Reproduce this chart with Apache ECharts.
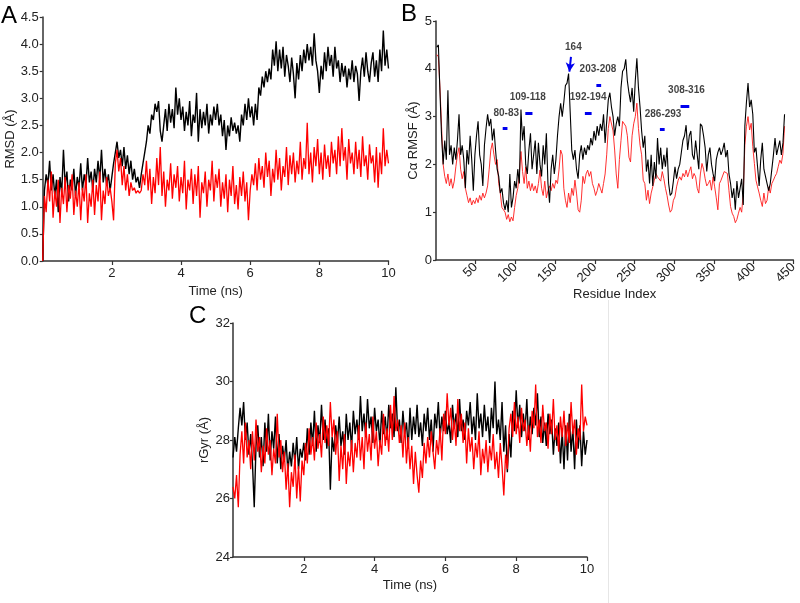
<!DOCTYPE html>
<html><head><meta charset="utf-8">
<script src="https://cdn.jsdelivr.net/npm/echarts@6/dist/echarts.min.js"></script>
<style>html,body{margin:0;padding:0;background:#fff}#c{width:800px;height:603px}</style>
</head><body><div id="c"></div>
<script>
// ---------- Panel A: RMSD (Å) vs time (ns), sampled every 0.05 ns ----------
const rmsdBlack = [
0.0,1.3,1.6,1.4,1.85,1.3,1.6,1.2,1.5,0.9,
1.55,1.25,2.05,1.4,1.65,1.1,1.5,1.3,1.7,1.2,
1.55,1.35,1.8,1.3,1.6,1.4,1.9,1.45,1.65,1.3,
1.7,1.45,1.85,1.5,2.05,1.45,1.7,1.4,1.6,1.3,
1.55,1.8,2.0,2.2,1.9,2.05,1.75,2.1,1.7,1.95,
1.6,1.85,1.5,1.7,1.45,1.55,1.35,1.6,1.8,2.0,
2.2,2.5,2.35,2.7,2.6,2.9,2.75,2.95,2.4,2.2,
2.5,2.8,2.4,2.9,2.55,2.8,2.45,3.2,2.7,3.0,
2.6,2.85,2.4,2.75,2.5,2.95,2.3,2.7,2.55,3.1,
2.2,2.8,2.45,2.75,2.5,2.9,2.35,2.7,2.5,2.85,
2.6,2.9,2.5,2.7,2.3,2.6,2.05,2.5,2.3,2.65,
2.4,2.55,2.35,2.5,2.2,2.7,2.5,2.9,2.6,3.0,
2.65,2.85,2.5,2.9,2.6,3.2,3.05,3.4,3.2,3.5,
3.3,3.55,3.35,3.9,3.6,4.05,3.5,3.9,3.55,3.95,
3.4,3.8,3.6,3.3,3.75,3.45,3.0,3.65,3.35,3.8,
3.5,3.9,3.65,4.0,3.7,3.95,3.6,4.2,3.7,3.5,
3.1,3.6,3.35,3.85,3.5,3.95,3.6,3.8,3.4,3.95,
3.55,3.7,3.3,3.65,3.4,3.6,3.2,3.55,3.35,3.7,
3.3,3.6,3.45,2.95,3.5,3.75,3.4,3.85,3.5,3.3,
3.65,3.85,3.4,3.7,3.3,3.9,3.5,4.25,3.6,3.9,
3.55];
const rmsdRed = [
0.0,1.2,0.9,1.5,1.1,1.65,0.8,1.3,1.0,1.5,
0.7,1.35,1.05,1.55,0.9,1.4,1.15,1.6,0.85,1.3,
1.0,1.45,0.75,1.35,1.1,1.6,0.7,1.25,1.0,1.5,
0.85,1.4,1.1,1.65,0.75,1.3,1.05,1.55,1.2,1.35,
1.1,0.75,1.8,2.05,1.65,1.9,1.4,1.75,1.3,1.6,
1.2,1.45,1.3,1.35,1.25,1.3,1.25,1.3,1.6,1.4,
1.85,1.3,1.7,1.05,1.55,1.25,1.9,1.4,2.1,1.2,
1.65,1.0,1.5,1.3,1.8,1.15,1.6,1.35,1.75,1.1,
1.55,1.25,1.85,0.95,1.5,1.3,1.7,1.05,1.6,1.2,
1.75,0.8,1.45,1.25,1.65,1.0,1.5,1.3,1.85,1.1,
1.6,1.35,1.7,1.0,1.45,1.15,1.6,0.9,1.5,1.2,
1.75,1.05,1.4,0.95,1.55,1.2,1.65,1.1,1.45,0.75,
1.3,1.6,1.4,1.8,1.3,1.9,1.5,1.75,1.35,2.0,
1.55,1.85,1.2,1.7,1.45,2.05,1.5,1.9,1.3,1.75,
1.55,2.1,1.4,1.95,1.6,2.0,1.45,1.85,1.6,2.2,
1.5,1.9,1.7,2.55,1.6,2.0,1.45,2.1,1.75,2.25,
1.6,2.0,1.5,2.15,1.7,1.95,1.55,2.2,1.8,2.05,
1.6,2.3,1.75,2.45,1.85,2.1,1.5,2.25,1.8,2.0,
1.6,2.2,1.7,2.05,1.55,2.3,1.75,1.95,1.5,2.15,
1.8,1.95,1.45,2.1,1.35,2.0,1.6,2.45,1.75,2.05,
1.8];

// ---------- Panel B: Cα RMSF (Å) per residue (odd residues 1..439) ----------
const rmsfBlack = [
4.45,4.5,3.5,2.6,2.0,2.5,2.1,3.55,2.2,2.4,
2.0,2.35,2.1,2.5,3.05,2.2,2.4,2.1,1.5,2.3,
2.0,2.6,2.1,1.45,2.2,2.6,2.9,2.2,2.0,1.55,
2.4,2.75,3.05,2.8,2.95,2.5,2.75,2.3,1.9,1.75,
1.4,1.5,1.2,1.05,1.25,1.0,1.8,1.1,1.3,1.65,
1.5,1.9,1.6,3.15,2.5,2.8,2.0,1.8,2.3,2.65,
1.9,2.2,2.5,1.8,2.45,2.0,1.75,2.4,2.0,2.65,
1.6,1.2,1.9,2.2,1.8,2.1,2.6,3.0,3.28,3.0,
3.3,3.65,3.7,3.9,3.1,2.3,2.1,2.3,1.9,1.7,
2.2,2.4,2.1,2.35,2.2,2.4,2.3,2.55,2.4,2.7,
2.5,2.8,2.6,2.85,2.7,3.05,2.45,2.9,3.35,3.5,
3.2,3.0,2.6,2.85,3.0,2.8,3.6,3.95,4.0,4.2,
3.75,3.5,3.3,3.6,3.1,3.75,4.22,3.6,3.2,2.7,
2.35,2.6,1.85,2.1,1.6,2.2,1.55,2.05,1.7,2.55,
2.0,2.35,1.9,2.2,1.95,2.35,1.6,1.35,1.4,1.65,
1.95,1.7,1.9,2.0,2.25,2.5,2.6,2.82,2.3,2.6,
2.7,2.2,2.1,2.5,2.2,1.9,2.85,2.8,2.6,2.35,
1.85,2.2,2.35,2.0,1.8,1.65,2.1,2.25,2.35,2.2,
2.3,2.45,2.15,2.3,1.8,1.6,1.3,1.5,1.05,1.65,
1.3,1.5,1.7,1.15,2.8,3.3,3.7,3.2,3.35,3.05,
2.25,2.35,1.95,1.55,2.1,2.45,1.9,1.75,1.6,1.45,
1.6,1.9,2.2,2.55,2.2,2.35,2.5,2.2,2.45,3.05];
const rmsfRed = [
4.3,4.25,3.6,2.8,2.0,1.75,1.6,1.8,1.55,1.7,
1.5,1.65,1.95,2.2,2.35,1.9,1.7,1.85,1.5,1.35,
1.2,1.3,1.15,1.25,1.18,1.3,1.2,1.35,1.25,1.4,
1.3,1.4,1.55,1.9,2.3,2.45,2.2,2.0,2.1,1.6,
1.4,1.1,1.05,1.0,0.85,0.95,0.8,0.9,0.82,1.1,
1.35,1.5,1.8,2.27,1.85,1.6,1.95,1.5,1.65,1.45,
1.6,1.45,1.55,1.4,1.6,1.88,1.5,1.35,1.65,1.3,
1.45,1.55,1.45,1.6,1.5,1.67,1.6,1.9,2.3,2.2,
1.5,1.25,1.1,1.4,1.2,1.5,1.35,1.67,1.4,1.05,
1.0,1.25,1.75,1.6,1.8,1.88,1.75,1.85,1.6,1.5,
1.35,1.45,1.6,1.5,1.4,1.6,1.8,2.2,2.75,3.0,
3.0,2.7,2.3,1.8,1.5,2.1,2.5,2.9,2.9,2.8,
2.6,2.15,2.05,2.6,2.85,3.0,3.28,2.75,2.4,2.2,
1.67,1.6,1.25,1.46,1.18,1.4,1.53,1.67,1.81,1.74,
1.78,1.65,1.85,1.7,1.5,1.35,1.15,1.0,1.05,1.25,
1.32,1.53,1.67,1.74,1.67,1.81,1.74,1.88,1.74,1.85,
1.95,1.7,1.81,1.74,1.5,1.4,1.8,2.02,1.9,1.7,
1.55,1.6,1.67,1.46,1.74,1.53,1.3,1.05,1.6,1.67,
1.7,1.85,1.88,1.81,1.45,1.12,0.98,0.91,0.78,0.85,
0.98,1.1,1.0,1.4,2.4,2.8,3.0,2.72,2.86,2.37,
2.02,1.67,1.53,1.4,1.25,1.12,1.4,1.18,1.25,1.53,
1.4,1.6,1.67,1.75,1.81,1.95,2.09,2.02,2.23,2.8];

// Panel B annotations (data coordinates: residue, RMSF)
const annLabels = ['80-83','109-118','164','192-194','203-208','286-293','308-316'];
const annLabelPos = [[88.5,3.06],[115.5,3.41],[173,4.46],[191.6,3.41],[204,4.0],[286,3.05],[315.4,3.56]];
const annBars = [[84,90,2.75],[112.5,121.5,3.07],[187.5,196,3.07],[202,208,3.66],[282,288,2.73],[308,319,3.21]];
const annArrow = [[170,4.25],[168,3.94]];

// ---------- Panel C: rGyr (Å) vs time (ns), sampled every 0.05 ns ----------
const rgyrBlack = [
27.4,28.1,27.6,28.4,29.1,28.5,29.3,28.0,28.6,27.5,
28.2,27.2,25.7,27.8,28.5,27.4,28.1,27.1,28.6,27.6,
28.9,27.3,28.3,27.7,28.8,27.2,28.2,27.0,27.8,27.3,
28.0,26.9,27.6,27.1,27.9,27.2,28.1,27.0,27.7,27.4,
27.9,27.3,28.4,27.5,28.6,27.8,29.0,27.6,28.5,27.9,
29.2,28.0,28.7,27.7,28.4,26.3,28.1,27.6,28.5,27.9,
28.8,27.8,28.3,27.5,28.9,28.0,28.6,27.7,29.0,28.2,
28.7,28.0,29.5,28.3,28.9,28.1,29.4,28.4,28.8,27.9,
29.1,28.3,28.7,27.8,29.0,28.2,28.8,28.0,29.2,28.4,
28.9,28.1,29.8,28.3,28.7,27.9,29.0,28.2,28.6,27.7,
29.1,28.0,28.8,28.2,29.2,28.1,28.6,27.8,28.9,28.3,
29.1,28.0,28.7,27.6,28.9,28.4,29.3,28.1,28.8,28.3,
29.0,28.2,28.6,27.9,29.2,28.4,28.9,28.1,29.4,28.3,
28.7,28.0,29.0,28.5,29.3,28.2,28.8,28.0,29.6,28.4,
28.9,28.1,29.2,28.3,28.8,27.9,29.1,28.4,30.0,28.2,
28.7,28.0,29.3,27.6,28.5,26.9,28.2,27.4,29.0,28.3,
29.7,28.4,29.2,28.1,28.9,28.3,29.4,28.0,28.8,28.2,
29.1,28.5,29.6,28.1,28.8,27.9,28.6,27.8,28.9,28.2,
28.7,27.5,28.4,27.8,28.6,27.2,28.3,27.0,28.5,27.3,
28.9,27.6,28.4,27.0,28.7,27.7,28.5,27.1,28.3,27.5,
28.0];
const rgyrRed = [
26.4,26.0,26.8,25.7,27.5,28.3,27.2,28.6,27.4,28.0,
27.0,28.3,27.3,28.7,27.6,28.1,26.9,27.8,27.2,28.4,
27.5,28.0,26.8,27.7,27.2,28.9,27.4,28.0,26.9,27.6,
26.3,27.2,25.7,26.9,26.4,27.5,26.0,27.1,25.9,27.3,
26.8,27.9,27.2,28.4,27.5,28.1,27.3,28.6,27.7,28.2,
27.4,28.8,27.9,28.5,27.8,29.3,28.1,28.7,27.5,28.3,
26.6,27.8,27.0,28.2,26.5,27.6,27.1,28.0,26.9,27.9,
27.4,28.5,27.3,28.1,27.0,28.6,27.6,28.2,27.3,28.8,
27.7,28.3,27.1,28.0,27.5,28.9,27.8,28.4,27.6,29.2,
28.0,29.5,28.3,28.7,27.9,28.5,27.4,28.6,27.2,28.1,
27.0,27.8,26.5,27.6,26.8,26.2,27.3,26.7,27.9,27.2,
28.1,27.4,28.3,27.6,27.0,28.0,27.5,28.4,27.3,28.9,
28.2,29.6,28.5,29.1,28.0,28.7,27.8,29.4,28.3,28.9,
27.9,28.6,27.2,28.4,27.6,28.1,27.0,27.9,27.4,28.3,
26.8,27.7,27.2,28.0,26.9,27.8,27.3,28.2,27.0,27.6,
26.7,27.9,27.1,26.1,27.5,27.0,28.4,28.9,28.1,29.3,
28.2,28.8,27.9,29.1,28.3,28.7,27.8,28.5,27.6,29.0,
28.4,29.9,28.1,28.7,27.9,29.2,28.3,28.6,27.7,28.9,
28.2,29.4,28.0,28.5,27.6,28.8,28.1,29.0,27.8,28.6,
27.9,29.3,28.2,28.7,27.5,28.4,28.0,29.9,28.3,28.8,
28.5];

// sampling grids
const timeStep = 0.05;
const timesA = rmsdBlack.map((_, i) => +(i * timeStep).toFixed(2));
const timesC = rgyrBlack.map((_, i) => +(i * timeStep).toFixed(2));
const residues = rmsfBlack.map((_, i) => 1 + 2 * i);

const pairs = (xs, ys) => xs.map((x, i) => [x, ys[i]]);

const FONT = '"Liberation Sans", Arial, sans-serif';
const TXT = '#222';
const AX = '#333';
const axisLineStyle = { show: true, lineStyle: { color: AX, width: 1.5 } };
const tickStyle = { show: true, length: 4, lineStyle: { color: AX, width: 1.2 } };
const labelBase = { color: TXT, fontSize: 13, fontFamily: FONT };
const nameBase = { color: TXT, fontSize: 13, fontFamily: FONT };

const chart = echarts.init(document.getElementById('c'), null, { renderer: 'canvas' });

const lineSeries = (xi, yi, data, color, w, z) => ({
  type: 'line', xAxisIndex: xi, yAxisIndex: yi, data: data,
  showSymbol: false, symbol: 'none', sampling: null, z: z,
  lineStyle: { color: color, width: w }, itemStyle: { color: color }, silent: true
});

const option = {
  animation: false,
  backgroundColor: '#fff',
  grid: [
    { left: 42.7, top: 17, width: 345.8, height: 244 },
    { left: 436, top: 21, width: 359, height: 239 },
    { left: 233, top: 323, width: 354, height: 234 }
  ],
  xAxis: [
    { gridIndex: 0, type: 'value', min: 0, max: 10, interval: 2,
      name: 'Time (ns)', nameLocation: 'middle', nameGap: 24, nameTextStyle: nameBase,
      axisLine: axisLineStyle, axisTick: tickStyle, splitLine: { show: false },
      axisLabel: Object.assign({ margin: 6, showMinLabel: false }, labelBase) },
    { gridIndex: 1, type: 'value', min: 0, max: 450, interval: 50,
      name: 'Residue Index', nameLocation: 'middle', nameGap: 28, nameTextStyle: nameBase,
      axisLine: axisLineStyle, axisTick: tickStyle, splitLine: { show: false },
      axisLabel: Object.assign({ margin: 5, rotate: 45, showMinLabel: false }, labelBase) },
    { gridIndex: 2, type: 'value', min: 0, max: 10, interval: 2,
      name: 'Time (ns)', nameLocation: 'middle', nameGap: 22, nameTextStyle: nameBase,
      axisLine: axisLineStyle, axisTick: tickStyle, splitLine: { show: false },
      axisLabel: Object.assign({ margin: 6, showMinLabel: false }, labelBase) }
  ],
  yAxis: [
    { gridIndex: 0, type: 'value', min: 0, max: 4.5, interval: 0.5,
      name: 'RMSD (Å)', nameLocation: 'middle', nameGap: 26, nameTextStyle: nameBase,
      axisLine: axisLineStyle, axisTick: Object.assign({}, tickStyle, { length: 3 }), splitLine: { show: false },
      axisLabel: Object.assign({ margin: 4, formatter: v => v.toFixed(1) }, labelBase) },
    { gridIndex: 1, type: 'value', min: 0, max: 5, interval: 1,
      name: 'Cα RMSF (Å)', nameLocation: 'middle', nameGap: 16, nameTextStyle: nameBase,
      axisLine: axisLineStyle, axisTick: Object.assign({}, tickStyle, { length: 3 }), splitLine: { show: false },
      axisLabel: Object.assign({ margin: 4 }, labelBase) },
    { gridIndex: 2, type: 'value', min: 24, max: 32, interval: 2,
      name: 'rGyr (Å)', nameLocation: 'middle', nameGap: 22, nameTextStyle: nameBase,
      axisLine: axisLineStyle, axisTick: Object.assign({}, tickStyle, { length: 3 }), splitLine: { show: false },
      axisLabel: Object.assign({ margin: 3 }, labelBase) }
  ],
  series: [
    lineSeries(0, 0, pairs(timesA, rmsdBlack), '#000000', 1.4, 2),
    lineSeries(0, 0, pairs(timesA, rmsdRed), '#ff0000', 1.3, 3),
    lineSeries(1, 1, pairs(residues, rmsfRed), '#ff1a1a', 0.9, 2),
    Object.assign(lineSeries(1, 1, pairs(residues, rmsfBlack), '#000000', 1.1, 3), {
      markLine: {
        silent: true, symbol: 'none', animation: false,
        label: { show: false },
        lineStyle: { color: '#0000ee', width: 3, type: 'solid' },
        data: annBars.map(b => [{ coord: [b[0], b[2]] }, { coord: [b[1], b[2]] }]).concat([
          [{ coord: annArrow[0], lineStyle: { width: 2 } , symbol: 'none'},
           { coord: annArrow[1], symbol: 'arrow', symbolSize: [7, 9] }]
        ])
      }
    }),
    { type: 'scatter', xAxisIndex: 1, yAxisIndex: 1, symbol: 'circle', symbolSize: 1, silent: true, z: 5,
      data: annLabelPos.map((p, i) => ({ value: p, name: annLabels[i] })),
      itemStyle: { color: 'rgba(255,255,255,0)' },
      label: { show: true, position: 'inside', formatter: p => p.name,
               color: '#111', fontSize: 10, fontWeight: 'bold', fontFamily: '"Liberation Sans", Arial, sans-serif' } },
    lineSeries(2, 2, pairs(timesC, rgyrBlack), '#000000', 1.4, 2),
    lineSeries(2, 2, pairs(timesC, rgyrRed), '#ff0000', 1.3, 3)
  ],
  graphic: [
    { type: 'text', left: 1, top: 4, style: { text: 'A', font: '24px "Liberation Sans", Arial, sans-serif', fill: '#000' } },
    { type: 'text', left: 401, top: 2, style: { text: 'B', font: '24px "Liberation Sans", Arial, sans-serif', fill: '#000' } },
    { type: 'text', left: 189, top: 304, style: { text: 'C', font: '24px "Liberation Sans", Arial, sans-serif', fill: '#000' } },
    { type: 'line', shape: { x1: 608.5, y1: 300, x2: 608.5, y2: 603 }, style: { stroke: '#e6e6e6', lineWidth: 1 } }
  ]
};
chart.setOption(option);
</script>
</body></html>
